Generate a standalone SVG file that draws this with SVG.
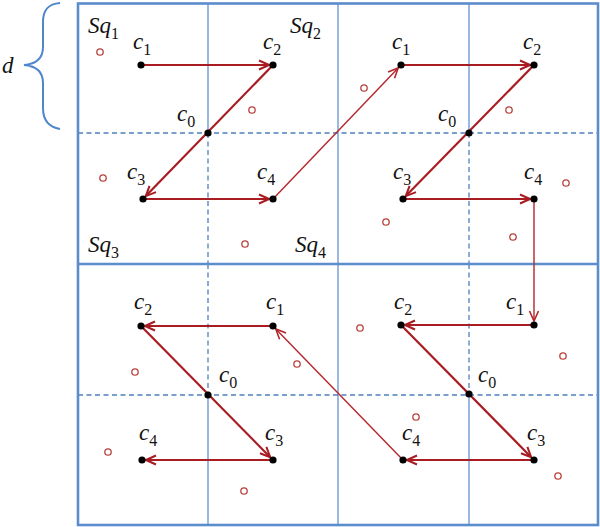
<svg xmlns="http://www.w3.org/2000/svg" width="600" height="527" viewBox="0 0 600 527">
<style>
.bg{fill:#ffffff}
.outer{fill:none;stroke:#5b8dcc;stroke-width:2.6}
.thick{stroke:#5b8dcc;stroke-width:2.4}
.thin{stroke:#6f9ad4;stroke-width:1.4}
.dash{stroke:#4f7fbf;stroke-width:1.3;stroke-dasharray:5,3.5}
.main{stroke:#a81c22;stroke-width:2.2;fill:none;marker-end:url(#ah)}
.link{stroke:#b3262c;stroke-width:1.4;fill:none;marker-end:url(#ah2)}
.dot{fill:#000000}
.pt{fill:none;stroke:#b8423c;stroke-width:1.3}
.lbl{font-family:"Liberation Serif","DejaVu Serif",serif;font-style:italic;font-size:23px;fill:#111111}
.sub{font-style:normal;font-size:16px}
.brace{fill:none;stroke:#4f86cc;stroke-width:2}
</style>
<defs>
<marker id="ah" viewBox="0 0 12 12" refX="11" refY="6" markerWidth="12" markerHeight="12" markerUnits="userSpaceOnUse" orient="auto">
<path d="M1,1.5 L11,6 L1,10.5" fill="none" stroke="#a81c22" stroke-width="2"/>
</marker>
<marker id="ah2" viewBox="0 0 12 12" refX="11" refY="6" markerWidth="12" markerHeight="12" markerUnits="userSpaceOnUse" orient="auto">
<path d="M1,1.5 L11,6 L1,10.5" fill="none" stroke="#b3262c" stroke-width="1.6"/>
</marker>
</defs>
<rect class="bg" x="0" y="0" width="600" height="527"/>

<g id="grid">
<line class="thin" x1="208" y1="3" x2="208" y2="133"/>
<line class="dash" x1="208" y1="133" x2="208" y2="264"/>
<line class="dash" x1="208" y1="264" x2="208" y2="395"/>
<line class="thin" x1="208" y1="395" x2="208" y2="525"/>
<line class="thin" x1="469" y1="3" x2="469" y2="133"/>
<line class="dash" x1="469" y1="133" x2="469" y2="264"/>
<line class="dash" x1="469" y1="264" x2="469" y2="395"/>
<line class="thin" x1="469" y1="395" x2="469" y2="525"/>
<line class="thin" x1="338" y1="3" x2="338" y2="525"/>
<line class="dash" x1="78" y1="133" x2="598" y2="133"/>
<line class="dash" x1="78" y1="395" x2="598" y2="395"/>
<line class="thick" x1="78" y1="264" x2="598" y2="264"/>
<rect class="outer" x="78" y="3.5" width="520" height="521.5"/>
</g>

<g id="brace">
<path class="brace" d="M60,3 C48,4 43,10 43,22 L43,47 C43,58 36,64 24,65 C36,66 43,72 43,83 L43,108 C43,120 48,127 60,129"/>
<text class="lbl" x="2" y="73">d</text>
</g>

<g id="connectors">
<line class="main" x1="141" y1="65" x2="269" y2="65"/>
<line class="main" x1="273" y1="65" x2="145.8" y2="196.1"/>
<line class="main" x1="143" y1="199" x2="269" y2="199"/>
<line class="link" x1="273" y1="199" x2="398.2" y2="67.9"/>
<line class="main" x1="401" y1="65" x2="530" y2="65"/>
<line class="main" x1="534" y1="65" x2="405.8" y2="196.1"/>
<line class="main" x1="403" y1="199" x2="530" y2="199"/>
<line class="link" x1="534" y1="199" x2="534" y2="321"/>
<line class="main" x1="534" y1="325" x2="405" y2="325"/>
<line class="main" x1="401" y1="325" x2="531.2" y2="457.2"/>
<line class="main" x1="534" y1="460" x2="407" y2="460"/>
<line class="link" x1="403" y1="460" x2="275.8" y2="328.9"/>
<line class="main" x1="273" y1="326" x2="145" y2="326"/>
<line class="main" x1="141" y1="326" x2="270.2" y2="457.2"/>
<line class="main" x1="273" y1="460" x2="146" y2="460"/>
</g>

<g id="samples">
<circle class="pt" cx="100" cy="52" r="3.2"/>
<circle class="pt" cx="252" cy="110" r="3.2"/>
<circle class="pt" cx="103" cy="178" r="3.2"/>
<circle class="pt" cx="245" cy="244" r="3.2"/>
<circle class="pt" cx="364" cy="88" r="3.2"/>
<circle class="pt" cx="509" cy="110" r="3.2"/>
<circle class="pt" cx="566" cy="183" r="3.2"/>
<circle class="pt" cx="386" cy="222" r="3.2"/>
<circle class="pt" cx="513" cy="237" r="3.2"/>
<circle class="pt" cx="135" cy="372" r="3.2"/>
<circle class="pt" cx="108" cy="452" r="3.2"/>
<circle class="pt" cx="244" cy="491" r="3.2"/>
<circle class="pt" cx="297" cy="364" r="3.2"/>
<circle class="pt" cx="360" cy="328" r="3.2"/>
<circle class="pt" cx="563" cy="356" r="3.2"/>
<circle class="pt" cx="416" cy="417" r="3.2"/>
<circle class="pt" cx="558" cy="476" r="3.2"/>
</g>

<g id="quad-tl">
<text class="lbl" x="88" y="33">Sq<tspan class="sub" dy="6">1</tspan></text>
<text class="lbl" x="88" y="252">Sq<tspan class="sub" dy="6">3</tspan></text>
<circle class="dot" cx="141" cy="65" r="3.6"/>
<circle class="dot" cx="273" cy="65" r="3.6"/>
<circle class="dot" cx="208" cy="133" r="3.6"/>
<circle class="dot" cx="143" cy="199" r="3.6"/>
<circle class="dot" cx="273" cy="199" r="3.6"/>
<text class="lbl" x="133" y="49">c<tspan class="sub" dy="6">1</tspan></text>
<text class="lbl" x="263" y="49">c<tspan class="sub" dy="6">2</tspan></text>
<text class="lbl" x="177" y="121">c<tspan class="sub" dy="6">0</tspan></text>
<text class="lbl" x="127" y="179">c<tspan class="sub" dy="6">3</tspan></text>
<text class="lbl" x="257" y="179">c<tspan class="sub" dy="6">4</tspan></text>
</g>

<g id="quad-tr">
<text class="lbl" x="290" y="33">Sq<tspan class="sub" dy="6">2</tspan></text>
<text class="lbl" x="295" y="252">Sq<tspan class="sub" dy="6">4</tspan></text>
<circle class="dot" cx="401" cy="65" r="3.6"/>
<circle class="dot" cx="534" cy="65" r="3.6"/>
<circle class="dot" cx="469" cy="133" r="3.6"/>
<circle class="dot" cx="403" cy="199" r="3.6"/>
<circle class="dot" cx="534" cy="199" r="3.6"/>
<text class="lbl" x="392" y="49">c<tspan class="sub" dy="6">1</tspan></text>
<text class="lbl" x="523" y="49">c<tspan class="sub" dy="6">2</tspan></text>
<text class="lbl" x="438" y="121">c<tspan class="sub" dy="6">0</tspan></text>
<text class="lbl" x="393" y="179">c<tspan class="sub" dy="6">3</tspan></text>
<text class="lbl" x="524" y="179">c<tspan class="sub" dy="6">4</tspan></text>
</g>

<g id="quad-bl">
<circle class="dot" cx="141" cy="326" r="3.6"/>
<circle class="dot" cx="273" cy="326" r="3.6"/>
<circle class="dot" cx="208" cy="395" r="3.6"/>
<circle class="dot" cx="142" cy="460" r="3.6"/>
<circle class="dot" cx="273" cy="460" r="3.6"/>
<text class="lbl" x="134" y="309">c<tspan class="sub" dy="6">2</tspan></text>
<text class="lbl" x="266" y="309">c<tspan class="sub" dy="6">1</tspan></text>
<text class="lbl" x="219" y="382">c<tspan class="sub" dy="6">0</tspan></text>
<text class="lbl" x="139" y="440">c<tspan class="sub" dy="6">4</tspan></text>
<text class="lbl" x="265" y="440">c<tspan class="sub" dy="6">3</tspan></text>
</g>

<g id="quad-br">
<circle class="dot" cx="401" cy="325" r="3.6"/>
<circle class="dot" cx="534" cy="325" r="3.6"/>
<circle class="dot" cx="469" cy="394" r="3.6"/>
<circle class="dot" cx="403" cy="460" r="3.6"/>
<circle class="dot" cx="534" cy="460" r="3.6"/>
<text class="lbl" x="394" y="309">c<tspan class="sub" dy="6">2</tspan></text>
<text class="lbl" x="506" y="309">c<tspan class="sub" dy="6">1</tspan></text>
<text class="lbl" x="478" y="382">c<tspan class="sub" dy="6">0</tspan></text>
<text class="lbl" x="402" y="440">c<tspan class="sub" dy="6">4</tspan></text>
<text class="lbl" x="527" y="440">c<tspan class="sub" dy="6">3</tspan></text>
</g>
</svg>
